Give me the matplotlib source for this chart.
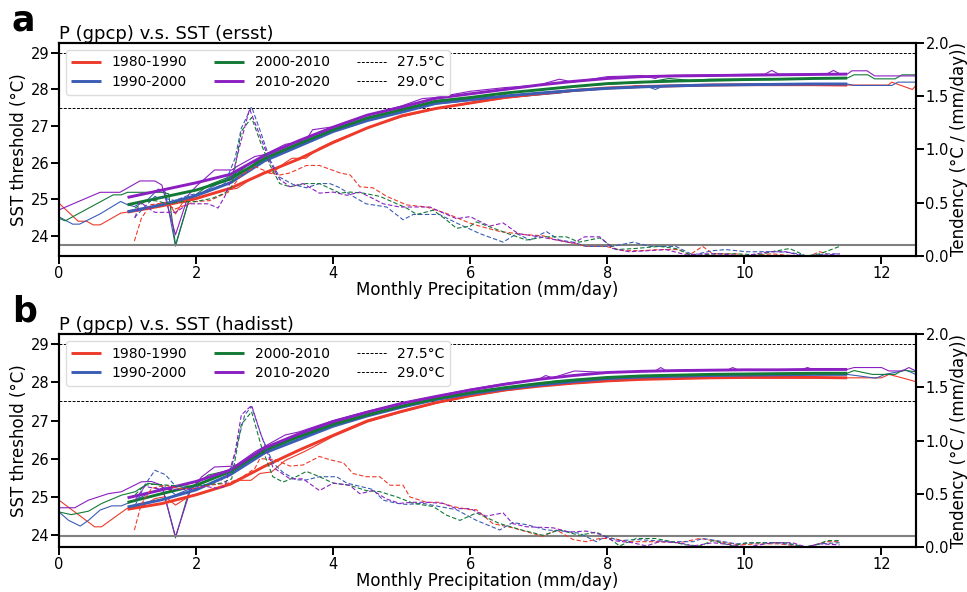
import matplotlib
matplotlib.use("Agg")
import matplotlib.pyplot as plt

plt.rcParams["font.family"] = ["DejaVu Sans"]

# ------------------------------------------------------------------------------
# Data
# ------------------------------------------------------------------------------
DECADES = ["1980-1990", "1990-2000", "2000-2010", "2010-2020"]
COLORS = ["#ee3a2a", "#3a5db5", "#137a36", "#8b1fc1"]
THRESHOLDS = [27.5, 29.0]
TEND_REF = 0.1

FIT_X = [1.0, 1.5, 2.0, 2.5, 3.0, 3.5, 4.0, 4.5, 5.0, 5.5, 6.0,
         6.5, 7.0, 7.5, 8.0, 8.5, 9.0, 9.5, 10.0, 10.5, 11.0, 11.5]

# ---- panel a : P (gpcp) v.s. SST (ersst) ----
A_FIT_RED = [24.65, 24.82, 25.02, 25.30, 25.72, 26.10, 26.55, 26.95, 27.28, 27.48, 27.63,
             27.78, 27.88, 27.97, 28.04, 28.08, 28.10, 28.12, 28.13, 28.13, 28.13, 28.12]
A_FIT_BLUE = [24.66, 24.85, 25.10, 25.45, 26.05, 26.45, 26.85, 27.15, 27.38, 27.62, 27.72,
              27.82, 27.90, 27.97, 28.03, 28.07, 28.10, 28.12, 28.13, 28.14, 28.15, 28.15]
A_FIT_GREEN = [24.85, 25.05, 25.25, 25.55, 26.12, 26.52, 26.90, 27.22, 27.45, 27.68, 27.78,
               27.90, 27.99, 28.08, 28.16, 28.20, 28.23, 28.25, 28.27, 28.28, 28.30, 28.31]
A_FIT_PURPLE = [25.05, 25.25, 25.45, 25.68, 26.20, 26.60, 26.97, 27.30, 27.52, 27.76, 27.88,
                28.00, 28.12, 28.22, 28.30, 28.35, 28.37, 28.38, 28.39, 28.40, 28.41, 28.42]

A_RAW_RED_X = [0.0, 0.28, 0.4, 0.5, 0.6, 0.9, 1.0, 1.2, 1.5, 1.6, 1.7, 1.8, 2.0, 2.3, 2.6, 2.8,
               3.0, 3.1, 3.3, 3.4, 3.6, 3.8, 4.0, 4.5, 5.0, 5.5, 6.0, 6.5, 7.0, 7.5, 8.0, 8.3,
               8.4, 9.0, 10.0, 11.5, 12.1, 12.15, 12.45, 12.5]
A_RAW_RED_Y = [24.89, 24.40, 24.40, 24.30, 24.30, 24.62, 24.65, 24.70, 24.90, 24.90, 24.60, 24.90,
               25.00, 25.20, 25.30, 25.55, 25.75, 25.70, 26.00, 26.12, 26.12, 26.40, 26.58, 26.95,
               27.25, 27.47, 27.62, 27.76, 27.86, 27.95, 28.05, 28.05, 28.10, 28.10, 28.13, 28.12,
               28.12, 28.20, 28.00, 28.10]
A_RAW_BLUE_X = [0.0, 0.2, 0.3, 0.6, 0.9, 1.0, 1.1, 1.3, 1.45, 1.55, 1.7, 1.9, 2.2, 2.5, 2.8, 3.0,
                3.3, 3.5, 4.0, 4.5, 5.0, 5.5, 6.0, 6.5, 7.0, 7.3, 7.6, 8.0, 8.6, 8.7, 8.8, 9.5,
                11.5, 11.6, 12.15, 12.24, 12.5]
A_RAW_BLUE_Y = [24.52, 24.32, 24.32, 24.60, 24.94, 24.85, 24.80, 25.00, 25.28, 25.20, 23.72, 25.00,
                25.30, 25.60, 26.00, 26.05, 26.30, 26.45, 26.87, 27.15, 27.40, 27.60, 27.70, 27.78,
                27.85, 27.90, 28.00, 28.03, 28.07, 28.00, 28.08, 28.12, 28.15, 28.11, 28.11, 28.20,
                28.20]
A_RAW_GREEN_X = [0.0, 0.09, 0.79, 0.91, 1.0, 1.5, 1.6, 1.7, 1.9, 2.2, 2.6, 2.8, 3.0, 3.5, 4.0,
                 4.5, 5.0, 5.5, 6.0, 6.4, 6.6, 7.0, 7.5, 8.0, 8.6, 8.9, 9.2, 9.5, 10.0, 11.0,
                 11.5, 11.6, 11.8, 11.9, 12.2, 12.3, 12.5]
A_RAW_GREEN_Y = [24.48, 24.41, 25.12, 25.12, 25.19, 25.19, 25.15, 23.75, 25.00, 25.40, 25.70,
                 26.00, 26.10, 26.50, 26.90, 27.22, 27.45, 27.68, 27.78, 27.80, 27.92, 27.98,
                 28.08, 28.14, 28.20, 28.30, 28.25, 28.28, 28.28, 28.30, 28.31, 28.40, 28.40,
                 28.29, 28.29, 28.40, 28.40]
A_RAW_PURPLE_X = [0.0, 0.6, 0.89, 1.18, 1.4, 1.5, 1.7, 1.89, 2.0, 2.27, 2.52, 2.6, 2.86, 3.0,
                  3.3, 3.6, 3.7, 4.0, 4.5, 5.0, 5.3, 5.5, 6.0, 6.5, 7.0, 7.3, 7.5, 8.0, 8.5,
                  8.7, 8.8, 10.3, 10.4, 10.5, 11.2, 11.3, 11.4, 11.5, 11.57, 11.79, 11.9, 12.5]
A_RAW_PURPLE_Y = [24.71, 25.19, 25.19, 25.50, 25.50, 25.39, 24.03, 25.12, 25.35, 25.80, 25.80,
                  25.90, 26.17, 26.22, 26.50, 26.60, 26.90, 26.98, 27.30, 27.55, 27.75, 27.78,
                  27.95, 28.05, 28.12, 28.28, 28.20, 28.35, 28.38, 28.30, 28.38, 28.42, 28.52,
                  28.42, 28.42, 28.52, 28.42, 28.42, 28.51, 28.51, 28.37, 28.37]

A_TEND_RED_X = [1.1, 1.2, 1.33, 1.55, 1.69, 1.98, 2.2, 2.47, 2.66, 2.86, 3.08, 3.22, 3.37, 3.61,
                3.8, 4.1, 4.25, 4.39, 4.58, 4.78, 5.07, 5.36, 5.65, 5.99, 6.14, 6.43, 6.8, 7.06,
                7.26, 7.5, 7.69, 7.98, 8.23, 8.5, 8.76, 9.05, 9.2, 9.39, 9.54, 9.88, 10.03, 10.4,
                10.75, 10.95, 11.1, 11.2]
A_TEND_RED_Y = [0.14, 0.35, 0.48, 0.50, 0.44, 0.51, 0.52, 0.60, 0.76, 0.84, 0.78, 0.76, 0.78,
                0.85, 0.85, 0.78, 0.76, 0.65, 0.64, 0.56, 0.48, 0.46, 0.40, 0.31, 0.28, 0.23,
                0.20, 0.19, 0.15, 0.12, 0.09, 0.09, 0.05, 0.05, 0.06, 0.06, 0.01, 0.09, 0.02,
                0.02, 0.00, 0.02, 0.00, 0.00, 0.04, 0.02]
A_TEND_BLUE_X = [1.1, 1.25, 1.4, 1.55, 1.69, 1.89, 2.13, 2.42, 2.57, 2.66, 2.81, 2.95, 3.08,
                 3.22, 3.42, 3.61, 3.8, 3.95, 4.1, 4.29, 4.48, 4.78, 5.02, 5.17, 5.55, 5.8,
                 6.14, 6.48, 6.68, 6.87, 7.11, 7.3, 7.5, 7.69, 8.08, 8.38, 8.62, 9.0, 9.25,
                 9.54, 9.73, 10.03, 10.5, 10.7, 10.9, 11.2, 11.39]
A_TEND_BLUE_Y = [0.36, 0.46, 0.56, 0.54, 0.52, 0.57, 0.60, 0.68, 0.92, 1.20, 1.40, 1.15, 0.90,
                 0.74, 0.67, 0.64, 0.68, 0.68, 0.64, 0.56, 0.49, 0.46, 0.34, 0.39, 0.39, 0.31,
                 0.21, 0.13, 0.21, 0.15, 0.23, 0.15, 0.13, 0.09, 0.09, 0.13, 0.09, 0.09, 0.01,
                 0.05, 0.06, 0.04, 0.04, 0.03, 0.00, 0.02, 0.02]
A_TEND_GREEN_X = [1.11, 1.25, 1.4, 1.6, 1.79, 1.98, 2.23, 2.42, 2.52, 2.66, 2.81, 2.95, 3.08,
                  3.22, 3.37, 3.61, 3.8, 4.1, 4.25, 4.44, 4.68, 4.93, 5.07, 5.22, 5.46, 5.65,
                  5.8, 6.0, 6.09, 6.3, 6.55, 6.82, 7.1, 7.4, 7.59, 7.89, 8.13, 8.4, 8.76, 9.0,
                  9.25, 9.54, 9.88, 10.2, 10.4, 10.66, 10.9, 11.1, 11.39]
A_TEND_GREEN_Y = [0.45, 0.51, 0.52, 0.49, 0.51, 0.51, 0.54, 0.59, 0.65, 1.17, 1.30, 1.05, 0.85,
                  0.68, 0.65, 0.68, 0.68, 0.59, 0.60, 0.59, 0.56, 0.49, 0.45, 0.39, 0.43, 0.34,
                  0.26, 0.28, 0.32, 0.27, 0.21, 0.15, 0.18, 0.18, 0.13, 0.17, 0.06, 0.07, 0.09,
                  0.07, 0.00, 0.02, 0.02, 0.01, 0.04, 0.07, 0.00, 0.02, 0.09]
A_TEND_PURPLE_X = [1.11, 1.18, 1.3, 1.4, 1.7, 1.89, 2.18, 2.32, 2.42, 2.52, 2.64, 2.78, 2.95,
                   3.08, 3.22, 3.37, 3.56, 3.8, 4.0, 4.2, 4.39, 4.58, 4.73, 4.97, 5.17, 5.41,
                   5.55, 5.8, 6.0, 6.09, 6.28, 6.48, 6.7, 7.01, 7.26, 7.5, 7.67, 7.89, 8.08,
                   8.32, 8.6, 8.86, 9.15, 9.4, 9.64, 9.98, 10.36, 10.6, 10.85, 11.2, 11.39]
A_TEND_PURPLE_Y = [0.36, 0.51, 0.45, 0.41, 0.41, 0.49, 0.49, 0.45, 0.56, 0.73, 1.04, 1.38, 1.10,
                   0.88, 0.72, 0.65, 0.68, 0.59, 0.60, 0.57, 0.60, 0.54, 0.49, 0.46, 0.46, 0.46,
                   0.42, 0.35, 0.37, 0.34, 0.28, 0.31, 0.21, 0.18, 0.15, 0.12, 0.18, 0.18, 0.07,
                   0.04, 0.05, 0.06, 0.01, 0.02, 0.02, 0.00, 0.04, 0.04, 0.00, 0.01, 0.02]

# ---- panel b : P (gpcp) v.s. SST (hadisst) ----
B_FIT_RED = [24.67, 24.82, 25.05, 25.33, 25.80, 26.22, 26.61, 26.99, 27.24, 27.47, 27.65,
             27.80, 27.90, 27.98, 28.04, 28.08, 28.10, 28.12, 28.13, 28.13, 28.13, 28.12]
B_FIT_BLUE = [24.73, 24.92, 25.18, 25.58, 26.15, 26.50, 26.85, 27.12, 27.35, 27.55, 27.70,
              27.83, 27.93, 28.02, 28.10, 28.14, 28.16, 28.18, 28.19, 28.20, 28.21, 28.21]
B_FIT_GREEN = [24.85, 25.08, 25.30, 25.66, 26.22, 26.58, 26.90, 27.15, 27.38, 27.57, 27.73,
               27.86, 27.97, 28.06, 28.13, 28.17, 28.19, 28.21, 28.22, 28.23, 28.24, 28.24]
B_FIT_PURPLE = [24.97, 25.18, 25.40, 25.70, 26.28, 26.65, 26.97, 27.22, 27.45, 27.63, 27.80,
                27.95, 28.08, 28.18, 28.26, 28.29, 28.31, 28.32, 28.33, 28.33, 28.34, 28.34]

B_RAW_RED_X = [0.0, 0.52, 0.62, 0.99, 1.2, 1.4, 1.55, 1.7, 1.89, 2.13, 2.37, 2.57, 2.64, 2.8,
               2.93, 3.1, 3.3, 3.6, 4.0, 4.5, 5.0, 5.5, 6.0, 6.5, 7.0, 7.5, 8.0, 8.5, 9.0, 10.0,
               11.5, 12.0, 12.11, 12.3, 12.5]
B_RAW_RED_Y = [24.91, 24.21, 24.21, 24.69, 24.75, 24.95, 25.00, 24.78, 25.00, 25.13, 25.26,
               25.39, 25.43, 25.43, 25.61, 25.65, 25.95, 26.20, 26.58, 26.96, 27.22, 27.45,
               27.64, 27.78, 27.90, 27.97, 28.03, 28.07, 28.10, 28.12, 28.12, 28.12, 28.21,
               28.12, 28.02]
B_RAW_BLUE_X = [0.0, 0.14, 0.31, 0.43, 0.6, 0.77, 0.91, 1.1, 1.3, 1.55, 1.7, 1.9, 2.2, 2.5, 2.8,
                3.0, 3.3, 3.5, 4.0, 4.5, 5.0, 5.5, 6.0, 6.5, 7.0, 7.5, 8.0, 8.5, 9.0, 10.0,
                11.5, 11.92, 12.05, 12.36, 12.5]
B_RAW_BLUE_Y = [24.60, 24.38, 24.23, 24.38, 24.65, 24.76, 24.76, 24.90, 25.08, 25.26, 25.05,
                25.20, 25.45, 25.70, 26.00, 26.18, 26.45, 26.55, 26.87, 27.13, 27.36, 27.56,
                27.71, 27.83, 27.94, 28.03, 28.10, 28.14, 28.16, 28.19, 28.21, 28.11, 28.21,
                28.32, 28.21]
B_RAW_GREEN_X = [0.0, 0.18, 0.43, 0.62, 0.91, 1.11, 1.3, 1.5, 1.7, 1.91, 2.18, 2.5, 2.66, 2.86,
                 3.0, 3.5, 4.0, 4.5, 5.0, 5.5, 6.0, 6.5, 7.0, 7.3, 7.5, 8.0, 8.5, 9.0, 10.0,
                 11.5, 11.6, 11.87, 12.2, 12.31, 12.5]
B_RAW_GREEN_Y = [24.60, 24.53, 24.62, 24.82, 25.04, 25.13, 25.35, 25.30, 23.92, 25.22, 25.57,
                 25.70, 25.83, 26.09, 26.25, 26.60, 26.92, 27.16, 27.38, 27.58, 27.74, 27.87,
                 27.98, 28.05, 28.06, 28.13, 28.17, 28.20, 28.22, 28.24, 28.31, 28.21, 28.21,
                 28.32, 28.28]
B_RAW_PURPLE_X = [0.0, 0.23, 0.43, 0.72, 0.91, 1.2, 1.35, 1.5, 1.7, 1.91, 2.08, 2.27, 2.52, 2.6,
                  2.86, 3.0, 3.3, 3.5, 4.0, 4.5, 5.0, 5.5, 6.0, 6.5, 7.0, 7.1, 7.2, 7.52, 8.0,
                  8.7, 8.78, 8.86, 9.75, 9.83, 9.91, 10.84, 10.92, 11.0, 11.5, 11.6, 12.0,
                  12.11, 12.3, 12.4, 12.5]
B_RAW_PURPLE_Y = [24.71, 24.71, 24.91, 25.08, 25.13, 25.39, 25.40, 25.30, 23.95, 25.13, 25.52,
                  25.78, 25.80, 25.85, 26.18, 26.32, 26.62, 26.70, 27.00, 27.24, 27.46, 27.64,
                  27.82, 27.97, 28.08, 28.18, 28.12, 28.30, 28.26, 28.30, 28.39, 28.30, 28.32,
                  28.39, 28.32, 28.34, 28.39, 28.34, 28.34, 28.39, 28.39, 28.30, 28.30, 28.39,
                  28.30]

B_TEND_RED_X = [1.1, 1.2, 1.35, 1.55, 1.75, 1.98, 2.2, 2.47, 2.66, 2.86, 2.93, 3.15, 3.37, 3.56,
                3.8, 3.95, 4.15, 4.29, 4.48, 4.68, 4.83, 5.02, 5.12, 5.36, 5.55, 5.75, 6.0,
                6.09, 6.33, 6.62, 7.06, 7.26, 7.5, 7.69, 7.89, 8.08, 8.32, 8.57, 8.8, 9.05,
                9.35, 9.64, 9.93, 10.2, 10.5, 10.9, 11.2, 11.39]
B_TEND_RED_Y = [0.16, 0.40, 0.55, 0.58, 0.55, 0.55, 0.58, 0.60, 0.65, 0.74, 0.83, 0.82, 0.76,
                0.77, 0.85, 0.82, 0.79, 0.69, 0.66, 0.66, 0.58, 0.58, 0.47, 0.42, 0.42, 0.38,
                0.35, 0.35, 0.22, 0.18, 0.10, 0.16, 0.07, 0.05, 0.08, 0.08, 0.05, 0.05, 0.05,
                0.04, 0.08, 0.05, 0.02, 0.03, 0.03, 0.00, 0.05, 0.05]
B_TEND_BLUE_X = [1.11, 1.25, 1.4, 1.55, 1.69, 1.89, 2.1, 2.37, 2.5, 2.61, 2.71, 2.81, 2.95, 3.12,
                 3.27, 3.46, 3.61, 3.8, 4.05, 4.2, 4.39, 4.58, 4.73, 4.93, 5.07, 5.31, 5.55,
                 5.8, 6.09, 6.43, 6.62, 6.82, 7.11, 7.35, 7.59, 7.84, 7.98, 8.18, 8.42, 8.7,
                 8.96, 9.25, 9.39, 9.6, 9.88, 10.2, 10.5, 10.7, 10.9, 11.1, 11.39]
B_TEND_BLUE_Y = [0.39, 0.58, 0.72, 0.68, 0.58, 0.55, 0.58, 0.63, 0.70, 0.99, 1.24, 1.32, 1.05,
                 0.79, 0.70, 0.63, 0.63, 0.66, 0.66, 0.60, 0.57, 0.54, 0.44, 0.41, 0.40, 0.41,
                 0.38, 0.35, 0.25, 0.16, 0.23, 0.21, 0.16, 0.15, 0.13, 0.05, 0.10, 0.06, 0.07,
                 0.06, 0.05, 0.05, 0.08, 0.06, 0.03, 0.04, 0.04, 0.02, 0.00, 0.03, 0.04]
B_TEND_GREEN_X = [1.11, 1.25, 1.4, 1.6, 1.8, 2.08, 2.37, 2.52, 2.66, 2.81, 2.95, 3.12, 3.27,
                  3.46, 3.61, 3.8, 4.0, 4.24, 4.48, 4.68, 4.93, 5.17, 5.46, 5.65, 5.85, 6.09,
                  6.43, 6.75, 7.06, 7.3, 7.59, 7.84, 8.03, 8.18, 8.42, 8.7, 8.86, 9.15, 9.35,
                  9.54, 9.83, 10.03, 10.3, 10.6, 10.9, 11.1, 11.2, 11.39]
B_TEND_GREEN_Y = [0.49, 0.58, 0.59, 0.58, 0.57, 0.58, 0.60, 0.64, 1.15, 1.27, 0.95, 0.66, 0.61,
                  0.66, 0.71, 0.66, 0.60, 0.58, 0.53, 0.52, 0.47, 0.41, 0.38, 0.30, 0.25, 0.32,
                  0.22, 0.16, 0.11, 0.16, 0.11, 0.14, 0.08, 0.01, 0.08, 0.08, 0.06, 0.02, 0.01,
                  0.06, 0.01, 0.04, 0.04, 0.04, 0.00, 0.03, 0.06, 0.06]
B_TEND_PURPLE_X = [1.11, 1.25, 1.4, 1.6, 1.9, 2.13, 2.32, 2.42, 2.57, 2.66, 2.81, 2.95, 3.12,
                   3.37, 3.56, 3.8, 4.0, 4.24, 4.39, 4.58, 4.78, 4.97, 5.17, 5.36, 5.6, 5.8,
                   6.0, 6.23, 6.48, 6.62, 6.82, 7.21, 7.45, 7.69, 7.89, 8.08, 8.37, 8.57, 8.76,
                   9.05, 9.25, 9.54, 9.83, 10.03, 10.41, 10.7, 10.9, 11.1, 11.39]
B_TEND_PURPLE_Y = [0.44, 0.57, 0.55, 0.54, 0.54, 0.57, 0.55, 0.57, 0.89, 1.24, 1.33, 1.05, 0.75,
                   0.64, 0.64, 0.53, 0.60, 0.58, 0.50, 0.53, 0.45, 0.41, 0.42, 0.42, 0.41, 0.36,
                   0.36, 0.29, 0.32, 0.22, 0.19, 0.18, 0.14, 0.15, 0.12, 0.06, 0.04, 0.01, 0.05,
                   0.04, 0.01, 0.04, 0.02, 0.00, 0.04, 0.04, 0.00, 0.03, 0.02]

FS_TICK = 10.5
FS_LABEL = 12
FS_TITLE = 13
FS_LEGEND = 10


def draw_panel(ax, letter, title, raw, fits, tends, ylim):
    ax2 = ax.twinx()

    handles = []
    for i, label in enumerate(DECADES):
        rx, ry = raw[i]
        ax.plot(rx, ry, color=COLORS[i], lw=0.8, zorder=2)
        h, = ax.plot(FIT_X, fits[i], color=COLORS[i], lw=2.1, label=label, zorder=3,
                     solid_capstyle="butt")
        handles.append(h)
        tx, ty = tends[i]
        ax2.plot(tx, ty, color=COLORS[i], lw=0.8, ls=(0, (4, 2)))

    for thr in THRESHOLDS:
        h = ax.axhline(thr, color="black", lw=0.7, ls=(0, (3, 1.5)),
                       label=f"{thr:.1f}\u00b0C", zorder=1)
        handles.append(h)

    ax2.axhline(TEND_REF, color="grey", lw=1.5, zorder=1)

    ax.set_xlim(0, 12.5)
    ax.set_ylim(*ylim)
    ax2.set_ylim(0, 2.0)
    ax.set_xticks([0, 2, 4, 6, 8, 10, 12])
    ax.set_yticks([24, 25, 26, 27, 28, 29])
    ax2.set_yticks([0.0, 0.5, 1.0, 1.5, 2.0])

    ax.set_xlabel("Monthly Precipitation (mm/day)", fontsize=FS_LABEL, labelpad=0)
    ax.set_ylabel("SST threshold (\u00b0C)", fontsize=FS_LABEL, labelpad=2)
    ax2.set_ylabel("Tendency (\u00b0C / (mm/day))", fontsize=FS_LABEL, labelpad=1)
    ax.set_title(title, loc="left", fontsize=FS_TITLE, pad=2)

    for a in (ax, ax2):
        a.tick_params(axis="both", labelsize=FS_TICK, length=6, width=1.4, pad=1)
        for sp in a.spines.values():
            sp.set_linewidth(1.5)

    ax2.legend(handles=handles, ncol=3, loc="upper left", fontsize=FS_LEGEND,
               borderaxespad=0.5, columnspacing=1.95, handlelength=2.15,
               handletextpad=0.75, labelspacing=0.4, borderpad=0.4,
               framealpha=1.0, edgecolor="#dddddd")

    ax.text(-0.055, 1.025, letter, transform=ax.transAxes, fontsize=25,
            fontweight="bold", va="bottom", ha="left")
    return ax2


# ------------------------------------------------------------------------------
# Figure
# ------------------------------------------------------------------------------
fig = plt.figure(figsize=(9.67, 5.92), dpi=100)
ax_a = fig.add_axes([0.061, 0.5676, 0.886, 0.3598])
ax_b = fig.add_axes([0.061, 0.0760, 0.886, 0.3598])

draw_panel(ax_a, "a", "P (gpcp) v.s. SST (ersst)",
           [(A_RAW_RED_X, A_RAW_RED_Y), (A_RAW_BLUE_X, A_RAW_BLUE_Y),
            (A_RAW_GREEN_X, A_RAW_GREEN_Y), (A_RAW_PURPLE_X, A_RAW_PURPLE_Y)],
           [A_FIT_RED, A_FIT_BLUE, A_FIT_GREEN, A_FIT_PURPLE],
           [(A_TEND_RED_X, A_TEND_RED_Y), (A_TEND_BLUE_X, A_TEND_BLUE_Y),
            (A_TEND_GREEN_X, A_TEND_GREEN_Y), (A_TEND_PURPLE_X, A_TEND_PURPLE_Y)],
           (23.45, 29.27))

draw_panel(ax_b, "b", "P (gpcp) v.s. SST (hadisst)",
           [(B_RAW_RED_X, B_RAW_RED_Y), (B_RAW_BLUE_X, B_RAW_BLUE_Y),
            (B_RAW_GREEN_X, B_RAW_GREEN_Y), (B_RAW_PURPLE_X, B_RAW_PURPLE_Y)],
           [B_FIT_RED, B_FIT_BLUE, B_FIT_GREEN, B_FIT_PURPLE],
           [(B_TEND_RED_X, B_TEND_RED_Y), (B_TEND_BLUE_X, B_TEND_BLUE_Y),
            (B_TEND_GREEN_X, B_TEND_GREEN_Y), (B_TEND_PURPLE_X, B_TEND_PURPLE_Y)],
           (23.68, 29.27))

fig.savefig("out.png", dpi=100)
plt.close(fig)
